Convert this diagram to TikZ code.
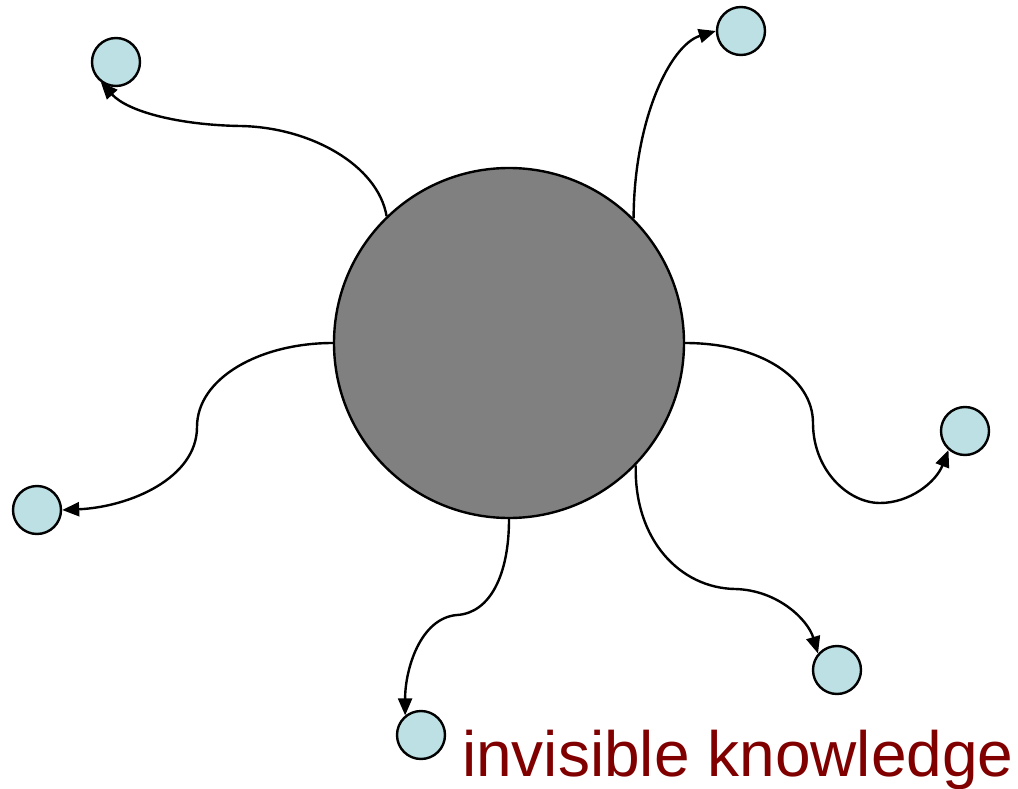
\documentclass[tikz,border=0pt]{standalone}
\usepackage{fontspec}
\setmainfont{Liberation Sans}
\usetikzlibrary{arrows.meta}
\definecolor{hubgray}{HTML}{808080}
\definecolor{leafblue}{HTML}{BCE0E3}
\definecolor{darkred}{HTML}{800000}
\begin{document}
\begin{tikzpicture}[x=1pt,y=-1pt,
  hub/.style={circle,draw=black,line width=2.4pt,fill=hubgray,minimum size=350pt,inner sep=0pt},
  leaf/.style={circle,draw=black,line width=2.4pt,fill=leafblue,minimum size=48pt,inner sep=0pt},
  link/.style={line width=2.4pt,-{Triangle[length=17pt,width=14pt]}}]
\useasboundingbox (0,0) rectangle (1018,789);
\node[hub] (c) at (509,343) {};
\node[leaf] (n1) at (116,62) {};
\node[leaf] (n2) at (741,31) {};
\node[leaf] (n3) at (37,510) {};
\node[leaf] (n4) at (965,431) {};
\node[leaf] (n5) at (837,670) {};
\node[leaf] (n6) at (421,735) {};
\draw[link] (c.134.5) .. controls (378,165) and (310,127) .. (240,126)
  .. controls (180,125) and (128,112) .. (n1.233);
\draw[link] (c.45.2) .. controls (634,120) and (670,45) .. (n2.180);
\draw[link] (c.180) .. controls (260,343) and (197,378) .. (197,427)
  .. controls (197,478) and (130,507) .. (n3.0);
\draw[link] (c.0) .. controls (760,343) and (813,378) .. (813,423)
  .. controls (813,470) and (848,503) .. (880,503)
  .. controls (910,503) and (936,482) .. (n4.229);
\draw[link] (c.-44.5) .. controls (634,540) and (680,588) .. (735,589)
  .. controls (778,590) and (808,620) .. (n5.139.6);
\draw[link] (c.-90) .. controls (509,575) and (490,613) .. (457,615)
  .. controls (420,618) and (405,670) .. (n6.129.5);
\node[text=darkred,font=\fontsize{64}{70}\selectfont,anchor=base west,inner sep=0pt] (t) at (462,776) {invisible knowledge};
\end{tikzpicture}
\end{document}
